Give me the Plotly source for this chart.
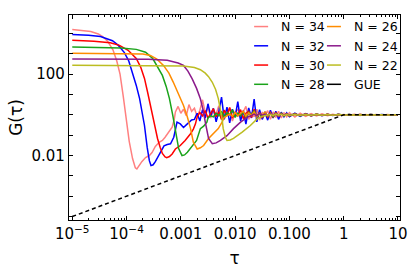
import plotly.graph_objects as go

# ---------------- data ----------------
series_names = ["N = 34", "N = 32", "N = 30", "N = 28", "N = 26", "N = 24", "N = 22"]
series_colors = ["#ff8080", "#0000ff", "#ff0000", "#1aa31a", "#ff8c00", "#8b1a8b", "#bcbd22"]

# early-time part (plateau, slope, dip, ramp)
tau_34 = [1.0e-5, 1.58e-5, 2.19e-5, 3.02e-5, 3.63e-5, 4.47e-5, 5.62e-5, 6.61e-5, 7.59e-5, 8.71e-5,
          9.77e-5, 1.12e-4, 1.29e-4, 1.45e-4, 1.55e-4, 1.70e-4, 1.91e-4, 2.24e-4, 2.63e-4, 2.95e-4,
          3.39e-4, 3.98e-4, 4.57e-4, 5.13e-4, 5.62e-4, 6.31e-4, 6.92e-4, 7.59e-4]
g_34 = [1.58e4, 1.45e4, 1.26e4, 9.5e3, 7.1e3, 4.2e3, 1.58e3, 447, 100, 7.9,
        0.79, 0.050, 7.1e-3, 2.5e-3, 2.2e-3, 3.2e-3, 5.0e-3, 7.9e-3, 1.0e-2, 1.41e-2,
        2.8e-2, 4.5e-2, 5.5e-2, 7.9e-2, 0.117, 0.166, 0.25, 0.63]

tau_32 = [1.0e-5, 2.0e-5, 3.31e-5, 4.47e-5, 5.50e-5, 7.08e-5, 9.12e-5, 1.10e-4, 1.29e-4, 1.51e-4,
          1.74e-4, 1.95e-4, 2.14e-4, 2.40e-4, 2.63e-4, 2.82e-4, 3.09e-4, 3.39e-4, 3.80e-4, 4.17e-4,
          4.90e-4, 5.62e-4, 6.46e-4, 7.41e-4, 8.51e-4, 9.77e-4, 1.12e-3, 1.26e-3, 1.41e-3, 1.58e-3]
g_32 = [8.9e3, 8.3e3, 7.1e3, 5.6e3, 4.4e3, 2.6e3, 1.15e3, 447, 126, 28,
        6.3, 1.41, 0.30, 0.025, 5.6e-3, 3.2e-3, 3.5e-3, 5.0e-3, 8.9e-3, 0.0145,
        0.030, 0.035, 0.038, 0.079, 0.44, 0.36, 0.24, 0.32, 0.44, 0.56]

tau_30 = [1.0e-5, 2.51e-5, 5.01e-5, 7.41e-5, 1.07e-4, 1.51e-4, 1.82e-4, 2.14e-4, 2.45e-4, 2.82e-4,
          3.24e-4, 3.72e-4, 4.17e-4, 4.57e-4, 5.13e-4, 5.50e-4, 6.17e-4, 6.92e-4, 7.94e-4, 9.77e-4,
          1.20e-3, 1.51e-3, 1.70e-3, 1.86e-3]
g_30 = [4.6e3, 4.2e3, 3.5e3, 2.6e3, 1.5e3, 589, 224, 62, 12.6, 2.0,
        0.35, 0.069, 0.025, 0.0126, 8.5e-3, 7.8e-3, 8.9e-3, 0.012, 0.021, 0.031,
        0.055, 0.117, 0.2, 0.36]

tau_28 = [1.0e-5, 3.16e-5, 7.94e-5, 1.51e-4, 2.24e-4, 3.02e-4, 3.80e-4, 4.57e-4, 5.37e-4, 6.17e-4,
          7.08e-4, 7.94e-4, 9.12e-4, 1.05e-3, 1.17e-3, 1.32e-3, 1.48e-3, 1.62e-3, 1.95e-3, 2.29e-3,
          2.63e-3, 3.02e-3]
g_28 = [2.14e3, 2.09e3, 1.95e3, 1.66e3, 1.2e3, 603, 224, 87, 25, 6.3,
        1.0, 0.141, 0.022, 0.010, 0.0107, 0.0145, 0.021, 0.031, 0.055, 0.21,
        0.28, 0.44]

tau_26 = [1.0e-5, 1.0e-4, 2.0e-4, 2.75e-4, 3.63e-4, 4.79e-4, 6.03e-4, 7.24e-4, 9.12e-4, 1.12e-3,
          1.32e-3, 1.51e-3, 1.70e-3, 2.0e-3, 2.29e-3, 2.63e-3, 3.24e-3, 3.98e-3, 4.90e-3, 5.75e-3]
g_26 = [1.07e3, 1.05e3, 977, 832, 550, 269, 112, 41, 11.2, 2.9,
        0.79, 0.21, 0.045, 0.021, 0.024, 0.031, 0.069, 0.12, 0.21, 0.44]

tau_24 = [1.0e-5, 2.51e-4, 5.62e-4, 8.91e-4, 1.12e-3, 1.35e-3, 1.62e-3, 1.95e-3, 2.29e-3, 2.57e-3,
          2.82e-3, 3.24e-3, 3.80e-3, 4.47e-3, 5.37e-3, 7.08e-3, 9.33e-3, 1.26e-2, 1.66e-2]
g_24 = [550, 537, 479, 355, 269, 141, 59, 20, 6.2, 1.78,
        0.44, 0.069, 0.038, 0.042, 0.055, 0.095, 0.21, 0.44, 0.76]

tau_22 = [1.0e-5, 6.31e-4, 1.12e-3, 1.78e-3, 2.29e-3, 2.82e-3, 3.24e-3, 3.80e-3, 4.37e-3, 4.90e-3,
          5.37e-3, 5.75e-3, 6.03e-3, 6.61e-3, 7.08e-3, 8.13e-3, 9.33e-3, 1.12e-2, 1.35e-2, 1.91e-2,
          2.57e-2, 3.31e-2]
g_22 = [275, 269, 251, 214, 166, 112, 76, 40, 17.8, 6.3,
        2.0, 0.63, 0.21, 0.079, 0.055, 0.058, 0.069, 0.095, 0.141, 0.30,
        0.65, 0.87]

# late-time (noisy plateau) sampling grid, shared by all curves
tau_late = [7.94e-4, 8.91e-4,
            1.0e-3, 1.12e-3, 1.26e-3, 1.41e-3, 1.58e-3, 1.78e-3, 2.0e-3, 2.24e-3, 2.51e-3, 2.82e-3,
            3.16e-3, 3.55e-3, 3.98e-3, 4.47e-3, 5.01e-3, 5.62e-3, 6.31e-3, 7.08e-3, 7.94e-3, 8.91e-3,
            1.0e-2, 1.12e-2, 1.26e-2, 1.41e-2, 1.58e-2, 1.78e-2, 2.0e-2, 2.24e-2, 2.51e-2, 2.82e-2,
            3.16e-2, 3.55e-2, 3.98e-2, 4.47e-2, 5.01e-2, 5.62e-2, 6.31e-2, 7.08e-2, 7.94e-2, 8.91e-2,
            0.1, 0.126, 0.158, 0.2, 0.251, 0.316, 0.398, 0.501, 0.631, 0.794,
            1.0, 1.26, 1.58, 2.0, 2.51, 3.16, 3.98, 5.01, 6.31, 7.94, 10.0]

late_34 = [1.4, 2.6, 1.2, 1.9, 0.9, 3.2, 1.5, 2.1, 0.8, 1.7, 5.5, 1.3, 2.4, 0.7, 1.6, 1.1, 2.8, 0.6, 1.5, 0.9, 2.2, 0.5,
           1.3, 1.9, 0.7, 1.4, 2.6, 0.6, 1.2, 0.8, 1.9, 0.55, 1.3, 1.0,
           1.6, 0.6, 1.4, 0.75, 1.5, 0.7, 1.3, 0.8,
           1.3, 0.78, 1.2, 0.85, 1.15, 0.88, 1.12, 0.9, 1.08, 0.93,
           1.05, 0.95, 1.06, 0.94, 1.04, 0.96, 1.05, 0.97, 1.03, 0.98, 1.0]
late_32 = [0.6, 1.2, 0.5, 1.8, 0.7, 3.5, 0.9, 2.1, 0.45, 1.5, 7.5, 0.6, 2.4, 0.4, 1.9, 0.8, 4.5, 0.5, 1.6, 0.35,
           2.2, 0.7, 6.0, 0.45, 1.8, 0.6, 1.3,
           0.55, 1.7, 0.7, 1.5, 0.6, 1.35, 0.8, 1.25,
           0.8, 1.2, 0.85, 1.15, 0.88, 1.1, 0.9, 1.08, 0.93, 1.06,
           0.95, 1.05, 0.96, 1.04, 0.95, 1.05, 0.97, 1.03, 0.98, 1.02, 1.0]
late_30 = [0.8, 1.3, 0.9, 1.6, 0.7, 1.2, 2.0, 0.8, 1.4, 0.6, 1.7, 1.0, 2.3, 0.7, 1.3, 0.9, 1.8, 0.65, 1.2, 1.5,
           0.75, 1.9, 0.8, 1.3, 0.7, 1.4,
           0.8, 1.3, 0.75, 1.25, 0.85, 1.2, 0.9, 1.15,
           0.9, 1.12, 0.92, 1.1, 0.9, 1.08, 0.94, 1.06, 0.95, 1.05,
           0.97, 1.04, 0.97, 1.03, 0.98, 1.03, 0.98, 1.02, 0.99, 1.01, 1.0]
late_28 = [0.7, 0.9, 0.8, 1.2, 0.9, 1.5, 0.8, 1.3, 1.0, 1.8, 0.75, 1.2, 0.9, 1.5, 0.7, 1.3, 1.0, 1.6, 0.8, 1.1,
           0.85, 1.3,
           0.85, 1.2, 0.8, 1.15, 0.9, 1.2, 0.88, 1.1,
           0.92, 1.1, 0.9, 1.08, 0.93, 1.06, 0.95, 1.05, 0.96, 1.04,
           0.98, 1.03, 0.97, 1.02, 0.98, 1.03, 0.98, 1.02, 0.99, 1.01, 1.0]
late_26 = [0.75, 0.9, 1.1, 0.85, 1.3, 0.9, 1.2, 1.5, 0.85, 1.25, 0.95, 1.4, 0.8, 1.2, 1.0, 1.3,
           0.85, 1.2, 0.9, 1.15, 0.85, 1.1, 0.92, 1.12,
           0.93, 1.08, 0.92, 1.07, 0.94, 1.06, 0.95, 1.05, 0.96, 1.04,
           0.98, 1.02, 0.97, 1.03, 0.98, 1.02, 0.99, 1.02, 0.98, 1.01, 1.0]
late_24 = [0.85, 0.95, 1.1, 0.9, 1.2, 0.95, 1.1,
           0.9, 1.15, 0.92, 1.1, 0.88, 1.12, 0.93, 1.08,
           0.95, 1.07, 0.94, 1.06, 0.95, 1.05, 0.96, 1.04, 0.97, 1.03,
           0.98, 1.02, 0.98, 1.02, 0.99, 1.02, 0.98, 1.01, 0.99, 1.01, 1.0]
late_22 = [0.95, 1.05, 0.93, 1.08, 0.95, 1.06, 0.94, 1.05,
           0.96, 1.05, 0.95, 1.04, 0.97, 1.04, 0.96, 1.03, 0.97, 1.03,
           0.98, 1.02, 0.99, 1.02, 0.98, 1.01, 0.99, 1.01, 0.99, 1.01, 1.0]

early_tau = [tau_34, tau_32, tau_30, tau_28, tau_26, tau_24, tau_22]
early_g = [g_34, g_32, g_30, g_28, g_26, g_24, g_22]
late_g = [late_34, late_32, late_30, late_28, late_26, late_24, late_22]

# GUE reference
tau_gue = [1.0e-5, 1.0, 10.0]
g_gue = [1.0e-5, 1.0, 1.0]

x_tickvals = [1e-5, 1e-4, 1e-3, 1e-2, 1e-1, 1, 10]
x_ticktext = ["10<sup>−5</sup>", "10<sup>−4</sup>", "0.001", "0.010", "0.100", "1", "10"]
y_tickvals = [1e-2, 100]
y_ticktext = ["0.01", "100"]
y_decades = [1e-5, 1e-4, 1e-3, 1e-1, 1, 10, 1e3, 1e4]

# ---------------- figure ----------------
FONT = "DejaVu Sans"
fig = go.Figure()

for name, col, t0, g0, gl in zip(series_names, series_colors, early_tau, early_g, late_g):
    tl = tau_late[len(tau_late) - len(gl):]
    fig.add_trace(go.Scatter(x=t0 + tl, y=g0 + gl, mode="lines",
                             line=dict(color=col, width=1.5), showlegend=False,
                             hoverinfo="skip"))

fig.add_trace(go.Scatter(x=tau_gue, y=g_gue, mode="lines",
                         line=dict(color="black", width=1.5, dash="4px,3px"),
                         showlegend=False, hoverinfo="skip"))

# legend entries (two columns)
legend_cols = ["legend"] * 4 + ["legend2"] * 3
for name, col, lg in zip(series_names, series_colors, legend_cols):
    fig.add_trace(go.Scatter(x=[None], y=[None], mode="markers", name=name, legend=lg,
                             marker=dict(symbol="line-ew", size=10,
                                         line=dict(color=col, width=1.5))))
fig.add_trace(go.Scatter(x=[None], y=[None], mode="markers", name="GUE", legend="legend2",
                         marker=dict(symbol="line-ew", size=10,
                                     line=dict(color="black", width=1.5))))

minor_x = [m * 10.0 ** e for e in range(-5, 1) for m in range(2, 10)]

fig.update_layout(
    width=415, height=273,
    margin=dict(l=69, r=15, t=15, b=53),
    paper_bgcolor="white", plot_bgcolor="white",
    font=dict(family=FONT, color="black", size=15),
    legend=dict(x=0.52, y=1.015, xanchor="left", yanchor="top",
                bgcolor="rgba(0,0,0,0)", font=dict(size=12.5, family=FONT),
                itemwidth=30, tracegroupgap=0),
    legend2=dict(x=0.74, y=1.015, xanchor="left", yanchor="top",
                 bgcolor="rgba(0,0,0,0)", font=dict(size=12.5, family=FONT),
                 itemwidth=30, tracegroupgap=0),
)

fig.update_xaxes(
    type="log", range=[-5.06, 1.037], automargin=False,
    tickmode="array", tickvals=x_tickvals, ticktext=x_ticktext,
    ticks="inside", ticklen=4, tickwidth=1, tickcolor="black",
    minor=dict(tickmode="array", tickvals=minor_x, ticks="inside", ticklen=2, tickcolor="black"),
    showline=True, linecolor="black", linewidth=1.2, mirror="allticks",
    showgrid=False, zeroline=False,
    tickfont=dict(size=15, family=FONT),
    title=dict(text="τ", font=dict(size=17, family=FONT), standoff=10),
)
fig.update_yaxes(
    type="log", range=[-5.17, 4.91], automargin=False,
    tickmode="array", tickvals=y_tickvals, ticktext=y_ticktext,
    ticks="inside", ticklen=4, tickwidth=1, tickcolor="black",
    minor=dict(tickmode="array", tickvals=y_decades, ticks="inside", ticklen=4, tickcolor="black"),
    showline=True, linecolor="black", linewidth=1.2, mirror="allticks",
    showgrid=False, zeroline=False,
    tickfont=dict(size=15, family=FONT),
    title=dict(text="G(τ)", font=dict(size=17, family=FONT), standoff=4),
)

fig.write_html("out.html", config={"displayModeBar": False},
               post_script="document.body.style.margin='0px';")
